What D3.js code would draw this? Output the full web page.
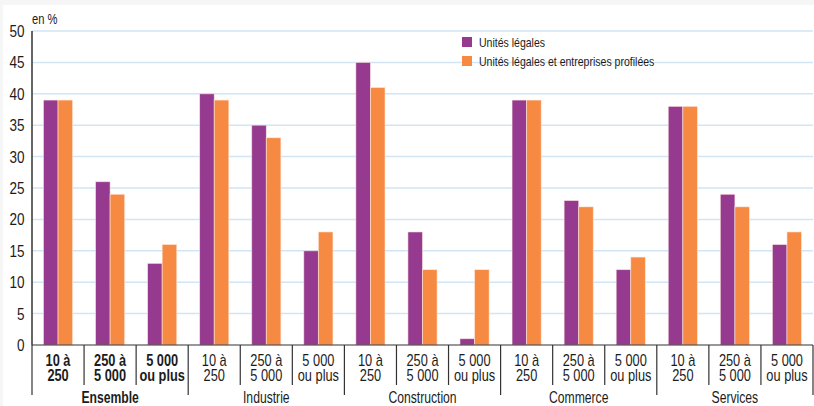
<!DOCTYPE html>
<meta charset="utf-8">
<script src="https://d3js.org/d3.v7.min.js"></script>
<style>
  body { margin: 0; background: #f6f6f6; }
  text { font-family: "Liberation Sans", Arial, sans-serif; fill: #1c1c1c; }
</style>
<div id="chart"></div>
<script>

// data
var groups = ["Ensemble", "Industrie", "Construction", "Commerce", "Services"];
var sizes = [["10 à", "250"], ["250 à", "5 000"], ["5 000", "ou plus"]];
var series = ["Unités légales", "Unités légales et entreprises profilées"];
var unitesLegales = [39, 26, 13, 40, 35, 15, 45, 18, 1, 39, 23, 12, 38, 24, 16];
var profilees     = [39, 24, 16, 39, 33, 18, 41, 12, 12, 39, 22, 14, 38, 22, 18];
var yTicks = [0, 5, 10, 15, 20, 25, 30, 35, 40, 45, 50];
var colors = ["#953a8e", "#f68a43"];

var W = 814, H = 406;
var margin = {top: 31, left: 32, right: 1, bottom: 61};

// condensed look: squeeze text horizontally
function place(x, y, sx) { return "translate(" + x + "," + y + ") scale(" + (sx || 0.8) + ",1)"; }

var svg = d3.select("#chart").append("svg")
    .attr("width", W)
    .attr("height", H);

// white panel
svg.append("rect")
    .attr("x", 3).attr("y", 5)
    .attr("width", W - 3).attr("height", H - 5)
    .attr("fill", "#fff");

// build rows
var rows = [];
groups.forEach(function(g, gi) {
  sizes.forEach(function(s, si) {
    var i = gi * 3 + si;
    rows.push({id: i, group: g, gi: gi, label: s, values: [unitesLegales[i], profilees[i]]});
  });
});

var x = d3.scaleBand()
  .domain(rows.map(function(d) { return d.id; }))
  .range([margin.left, W - margin.right])
  .padding(0);

var xInner = d3.scaleBand()
  .domain([0, 1])
  .range([x.bandwidth() * 0.22, x.bandwidth() * 0.78]);

var y = d3.scaleLinear()
  .domain([0, 50])
  .range([H - margin.bottom, margin.top]);

var y0 = y(0);

// gridlines
svg.append("g")
  .selectAll("line")
  .data(yTicks.filter(function(t) { return t > 0; }))
  .enter().append("line")
    .attr("x1", margin.left)
    .attr("x2", W - margin.right)
    .attr("y1", function(d) { return y(d); })
    .attr("y2", function(d) { return y(d); })
    .attr("stroke", "#d2e5f5")
    .attr("stroke-width", 1.5);

// y tick labels
svg.append("g")
  .selectAll("text")
  .data(yTicks)
  .enter().append("text")
    .attr("transform", function(d) { return place(24.5, y(d) + 6, 0.82); })
    .attr("text-anchor", "end")
    .style("font-size", "16.5px")
    .text(function(d) { return d; });

svg.append("text")
    .attr("transform", place(32, 24))
    .style("font-size", "14px")
    .text("en %");

// bars
var grp = svg.append("g")
  .selectAll("g")
  .data(rows)
  .enter().append("g")
    .attr("transform", function(d) { return "translate(" + x(d.id) + ",0)"; });

grp.selectAll("rect")
  .data(function(d) { return d.values.map(function(v, k) { return {k: k, v: v}; }); })
  .enter().append("rect")
    .attr("x", function(d) { return xInner(d.k); })
    .attr("y", function(d) { return y(d.v); })
    .attr("width", xInner.bandwidth())
    .attr("height", function(d) { return y0 - y(d.v); })
    .attr("fill", function(d) { return colors[d.k]; })
    .attr("stroke", "rgba(255,235,225,0.7)")
    .attr("stroke-width", 0.8);

// axes lines
svg.append("line")
    .attr("x1", margin.left).attr("x2", margin.left)
    .attr("y1", y(50)).attr("y2", y0)
    .attr("stroke", "#333").attr("stroke-width", 1.5);
svg.append("line")
    .attr("x1", margin.left).attr("x2", W - margin.right)
    .attr("y1", y0).attr("y2", y0)
    .attr("stroke", "#333").attr("stroke-width", 1.2);

// separator ticks
var seps = d3.range(rows.length + 1);
svg.append("g")
  .selectAll("line")
  .data(seps)
  .enter().append("line")
    .attr("x1", function(d) { return margin.left + d * x.step(); })
    .attr("x2", function(d) { return margin.left + d * x.step(); })
    .attr("y1", y0)
    .attr("y2", function(d) { return d % 3 === 0 ? 395 : 385; })
    .attr("stroke", "#333")
    .attr("stroke-width", 1.2);

// size labels, two lines each
[0, 1].forEach(function(line) {
  svg.append("g")
    .selectAll("text")
    .data(rows)
    .enter().append("text")
      .attr("transform", function(d) { return place(x(d.id) + x.bandwidth() / 2, 366 + line * 15); })
      .attr("text-anchor", "middle")
      .style("font-size", "16px")
      .style("font-weight", function(d) { return d.gi === 0 ? "bold" : "normal"; })
      .text(function(d) { return d.label[line]; });
});

// group labels
svg.append("g")
  .selectAll("text")
  .data(groups)
  .enter().append("text")
    .attr("transform", function(d, i) { return place(margin.left + (i * 3 + 1.5) * x.step(), 403, 0.76); })
    .attr("text-anchor", "middle")
    .style("font-size", "16px")
    .style("font-weight", function(d, i) { return i === 0 ? "bold" : "normal"; })
    .text(function(d) { return d; });

// legend
var leg = svg.append("g")
  .selectAll("g")
  .data(series)
  .enter().append("g")
    .attr("transform", function(d, i) { return "translate(462," + (37 + i * 19) + ")"; });
leg.append("rect")
    .attr("width", 10).attr("height", 10)
    .attr("fill", function(d, i) { return colors[i]; });
leg.append("text")
    .attr("transform", place(17, 9.5, 0.81))
    .style("font-size", "13px")
    .text(function(d) { return d; });

</script>
